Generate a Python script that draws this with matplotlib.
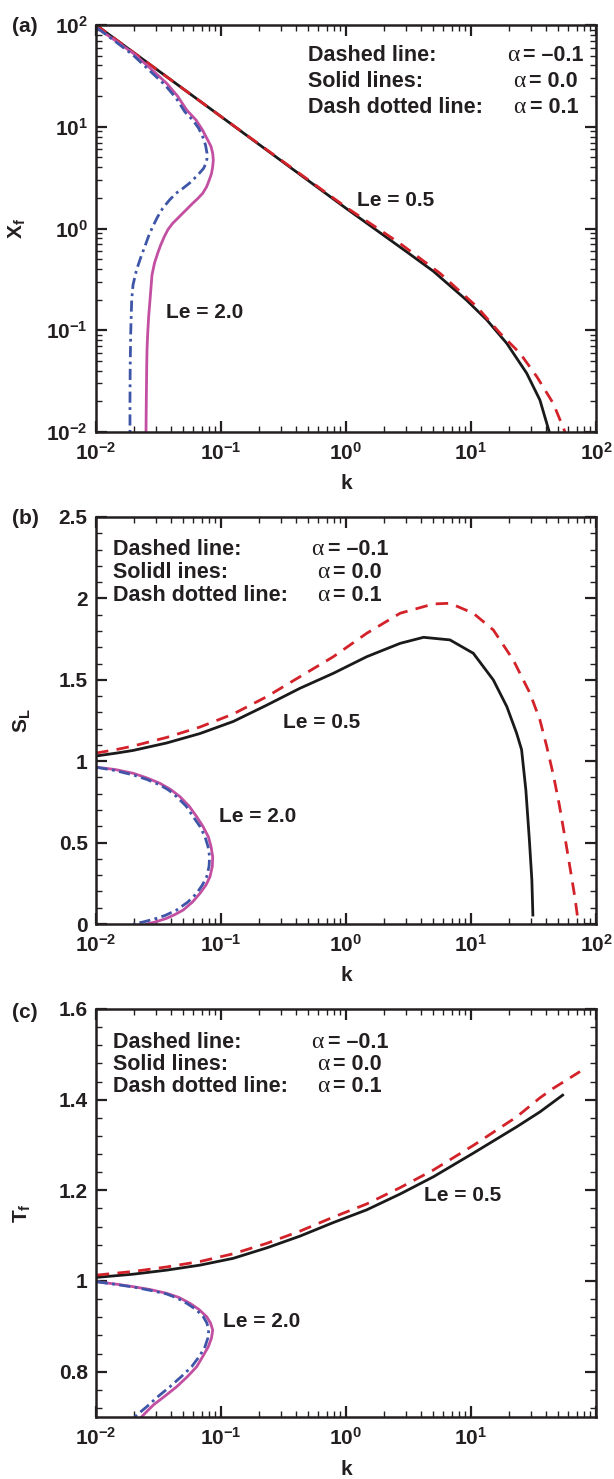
import numpy as np
import matplotlib
matplotlib.use('Agg')
import matplotlib.pyplot as plt
from matplotlib.ticker import FuncFormatter, FixedLocator, LogLocator, NullFormatter

plt.rcParams['font.family'] = ['Liberation Sans', 'DejaVu Sans']
plt.rcParams['font.weight'] = 'bold'
plt.rcParams['mathtext.fontset'] = 'custom'
plt.rcParams['mathtext.rm'] = 'Liberation Sans:bold'
plt.rcParams['mathtext.it'] = 'Liberation Sans:bold'
plt.rcParams['mathtext.bf'] = 'Liberation Sans:bold'
plt.rcParams['mathtext.default'] = 'rm'

# ---------------- data ----------------
# Panel (a): flame position X_f vs k
a_le05_a0_k = [0.01, 0.1, 1.0, 3.0, 5.0, 9.2, 13.4, 19.3, 27.9, 35.6, 42.3]
a_le05_a0_x = [100, 12.6, 1.58, 0.60, 0.38, 0.198, 0.126, 0.0745, 0.0378, 0.0206, 0.01]
a_le05_am_k = [0.01, 0.1, 1.0, 2.7, 5.65, 11.1, 17.1, 24.7, 33.6, 45.5, 56.5]
a_le05_am_x = [100, 12.6, 1.62, 0.714, 0.363, 0.171, 0.0933, 0.0593, 0.035, 0.0191, 0.01]
a_le2_a0_k = [0.01019, 0.01076, 0.01445, 0.01988, 0.02704, 0.03677, 0.04487, 0.05314, 0.0631,
              0.07112, 0.07826, 0.08318, 0.08583, 0.08679, 0.08583, 0.08395, 0.0806, 0.07656,
              0.07138, 0.06522, 0.05937, 0.05415, 0.04938, 0.04503, 0.04107, 0.03767, 0.03519,
              0.03293, 0.03115, 0.02938, 0.02805, 0.02704, 0.0264, 0.02592, 0.02559, 0.02545,
              0.02526, 0.02512]
a_le2_a0_x = [93.4, 89.3, 69.6, 52.7, 37.8, 26.7, 20.05, 14.6, 11.65,
              9.29, 7.41, 6.40, 5.48, 4.71, 4.05, 3.47, 3.0, 2.557,
              2.218, 1.971, 1.769, 1.579, 1.411, 1.259, 1.125, 0.978, 0.831,
              0.688, 0.571, 0.458, 0.349, 0.198, 0.138, 0.0933, 0.0639, 0.0439,
              0.0206, 0.01]
a_le2_ap_k = [0.01019, 0.01076, 0.01445, 0.01977, 0.02655, 0.03565, 0.04365, 0.05152, 0.05937,
              0.06607, 0.07138, 0.07516, 0.07727, 0.07727, 0.07586, 0.07244, 0.06706, 0.06138,
              0.05577, 0.04966, 0.04365, 0.03873, 0.03417, 0.03105, 0.02842, 0.02655, 0.02512,
              0.02291, 0.02109, 0.01977, 0.0193, 0.01895, 0.01877, 0.0187, 0.0187]
a_le2_ap_x = [93.4, 89.3, 68.1, 50.7, 36.1, 25.7, 19.17, 13.96, 11.65,
              9.72, 7.98, 6.62, 5.48, 4.875, 4.37, 3.889, 3.487, 3.114,
              2.781, 2.484, 2.218, 1.906, 1.579, 1.297, 1.041, 0.863, 0.715,
              0.528, 0.391, 0.2785, 0.198, 0.0933, 0.0439, 0.0206, 0.01]

# Panel (b): burning speed S_L vs k
b_le05_a0_k = [0.01, 0.01464, 0.01977, 0.03677, 0.06792, 0.1253, 0.2291, 0.4285, 0.7924, 1.466,
               2.714, 4.172, 6.792, 10.43, 15.09, 19.35, 23.17, 25.39, 27.47, 29.31, 30.68, 31.26]
b_le05_a0_s = [1.032, 1.050, 1.066, 1.112, 1.170, 1.244, 1.342, 1.448, 1.540, 1.642,
               1.724, 1.761, 1.745, 1.663, 1.499, 1.335, 1.172, 1.071, 0.823, 0.516, 0.270, 0.055]
b_le05_am_k = [0.01, 0.01464, 0.01977, 0.03677, 0.06792, 0.1253, 0.2291, 0.4285, 0.7924, 1.466,
               2.714, 5.01, 6.792, 10.43, 15.09, 21.77, 29.65, 35.6, 40.4, 45.6, 50.9, 56.9,
               62.4, 67.9, 72.4]
b_le05_am_s = [1.050, 1.072, 1.093, 1.146, 1.210, 1.290, 1.394, 1.519, 1.642, 1.786,
               1.909, 1.966, 1.970, 1.909, 1.806, 1.622, 1.417, 1.253, 1.089, 0.915, 0.731, 0.516,
               0.332, 0.160, 0.0]
b_le2_a0_k = [0.01013, 0.01419, 0.01988, 0.02558, 0.03247, 0.03953, 0.04699, 0.05546, 0.06391,
              0.07178, 0.07915, 0.08318, 0.08583, 0.0852, 0.08166, 0.07586, 0.06792, 0.05916,
              0.0499, 0.04285, 0.03677, 0.0302, 0.02547]
b_le2_a0_s = [0.9625, 0.949, 0.9257, 0.8968, 0.8642, 0.8262, 0.7819, 0.7248, 0.6591,
              0.5989, 0.5362, 0.476, 0.4134, 0.3532, 0.2905, 0.2396, 0.1886, 0.1351,
              0.086, 0.0584, 0.035, 0.0135, 0.0]
b_le2_ap_k = [0.01013, 0.01419, 0.01988, 0.02558, 0.03247, 0.03805, 0.0442, 0.05248, 0.05992,
              0.06792, 0.07447, 0.0787, 0.08112, 0.0802, 0.07685, 0.07096, 0.06391, 0.05433,
              0.0442, 0.03565, 0.02873, 0.02378, 0.01988]
b_le2_ap_s = [0.9625, 0.9429, 0.9152, 0.8876, 0.8538, 0.8231, 0.7819, 0.7248, 0.6591,
              0.5989, 0.5362, 0.476, 0.4134, 0.3532, 0.2905, 0.2396, 0.1886, 0.1351,
              0.086, 0.0522, 0.0289, 0.0123, 0.0]

# Panel (c): flame temperature T_f vs k
c_le05_a0_k = [0.01013, 0.01979, 0.0368, 0.0679, 0.1252, 0.232, 0.4285, 0.7924, 1.466, 2.714,
               5.01, 10.43, 23.17, 35.6, 54.1]
c_le05_a0_t = [1.008, 1.015, 1.024, 1.035, 1.050, 1.073, 1.099, 1.129, 1.157, 1.192,
               1.230, 1.282, 1.340, 1.373, 1.410]
c_le05_am_k = [0.01013, 0.01979, 0.0368, 0.0679, 0.1252, 0.232, 0.4285, 0.7924, 1.466, 2.714,
               5.01, 10.43, 23.17, 35.6, 45.5, 74.5]
c_le05_am_t = [1.013, 1.021, 1.031, 1.043, 1.060, 1.083, 1.110, 1.141, 1.170, 1.206,
               1.245, 1.299, 1.362, 1.404, 1.425, 1.462]
c_le2_a0_k = [0.01013, 0.01419, 0.01988, 0.02704, 0.03677, 0.04613, 0.05649, 0.06668, 0.07685,
              0.08241, 0.08583, 0.08395, 0.07915, 0.07178, 0.06391, 0.05395, 0.0442, 0.03565,
              0.02873, 0.02466, 0.02312]
c_le2_a0_t = [0.9984, 0.9934, 0.9874, 0.9812, 0.9728, 0.9636, 0.9508, 0.9371, 0.9212,
              0.9073, 0.8919, 0.8742, 0.855, 0.8345, 0.8109, 0.7893, 0.7668, 0.7463,
              0.7264, 0.7081, 0.70]
c_le2_ap_k = [0.01013, 0.01419, 0.01988, 0.02704, 0.03677, 0.04446, 0.05318, 0.0631, 0.07215,
              0.07711, 0.07978, 0.07849, 0.07447, 0.06738, 0.05823, 0.04823, 0.03904, 0.03134,
              0.02547, 0.02291, 0.02033]
c_le2_ap_t = [0.9984, 0.9927, 0.9867, 0.9795, 0.9713, 0.9625, 0.9508, 0.9371, 0.9212,
              0.9073, 0.8919, 0.8742, 0.855, 0.8345, 0.8109, 0.7893, 0.7668, 0.7452,
              0.7227, 0.7121, 0.70]

legend_left = ['Dashed line:', 'Solid lines:', 'Dash dotted line:']
legend_left_b = ['Dashed line:', 'Solidl ines:', 'Dash dotted line:']
legend_vals = ['= \u20130.1', '= 0.0', '= 0.1']

# ---------------- style ----------------
INK = '#231f20'
BLACK = '#1a1a1a'
RED = '#d3222a'
MAGENTA = '#c24fa1'
BLUE = '#3f56a8'
LW = 2.0
DASH = (4.5, 3)
DASHDOT = (4, 1.6, 1, 1.6)
FS = 15

fig = plt.figure(figsize=(6.14, 14.79), dpi=100)
W, H = 614.0, 1479.0


def rect(x0, x1, ytop, ybot):
    return [x0 / W, 1 - ybot / H, (x1 - x0) / W, (ybot - ytop) / H]


axa = fig.add_axes(rect(96, 596, 25, 432))
axb = fig.add_axes(rect(96, 596, 517, 924))
axc = fig.add_axes(rect(96, 596, 1009, 1417))


def logfmt(skip=()):
    def f(v, p):
        e = int(round(np.log10(v)))
        if e in skip:
            return ''
        return r'$10^{%d}$' % e
    return FuncFormatter(f)


def style(ax):
    for s in ax.spines.values():
        s.set_linewidth(1.8)
        s.set_color(INK)
    ax.tick_params(which='both', direction='in', top=True, right=True, colors=INK)
    ax.tick_params(which='major', length=8, width=1.6, labelsize=FS, pad=6)
    ax.tick_params(which='minor', length=4.5, width=1.0)
    ax.tick_params(axis='x', which='major', pad=7)
    for lab in ax.get_xticklabels() + ax.get_yticklabels():
        lab.set_fontweight('bold')


def legend(ax, labels, fx, fys, splits_px, x0=96, w=500):
    for lab, fy, sp, val in zip(labels, fys, splits_px, legend_vals):
        ax.text(fx, fy, lab, transform=ax.transAxes, fontsize=15.5, fontweight='bold',
                color=INK, ha='left', va='baseline')
        sx = (sp - x0) / w
        ax.text(sx - 0.002, fy, '\u03b1', transform=ax.transAxes, fontsize=17,
                family='Liberation Serif', fontweight='normal', color=INK, ha='right', va='baseline')
        ax.text(sx + 0.006, fy, val, transform=ax.transAxes, fontsize=15.5, fontweight='bold',
                color=INK, ha='left', va='baseline')


def log_x(ax):
    ax.set_xscale('log')
    ax.set_xlim(1e-2, 1e2)
    ax.xaxis.set_major_locator(LogLocator(base=10, numticks=10))
    ax.xaxis.set_minor_locator(LogLocator(base=10, subs=np.arange(2, 10), numticks=20))
    ax.xaxis.set_minor_formatter(NullFormatter())


def curves(ax, kb, yb, kr, yr, km, ym, kbl, ybl):
    ax.plot(kb, yb, color=BLACK, lw=LW)
    ax.plot(kr, yr, color=RED, lw=LW, dashes=DASH)
    ax.plot(km, ym, color=MAGENTA, lw=LW)
    ax.plot(kbl, ybl, color=BLUE, lw=LW, dashes=DASHDOT)


def le_labels(ax, p05, p2):
    ax.text(p05[0], p05[1], 'Le = 0.5', transform=ax.transAxes, fontsize=FS,
            fontweight='bold', color=INK, va='baseline')
    ax.text(p2[0], p2[1], 'Le = 2.0', transform=ax.transAxes, fontsize=FS,
            fontweight='bold', color=INK, va='baseline')


# ---- panel (a) ----
log_x(axa)
axa.set_yscale('log')
curves(axa, a_le05_a0_k, a_le05_a0_x, a_le05_am_k, a_le05_am_x,
       a_le2_a0_k, a_le2_a0_x, a_le2_ap_k, a_le2_ap_x)
axa.set_ylim(1e-2, 1e2)
axa.yaxis.set_major_locator(LogLocator(base=10, numticks=10))
axa.yaxis.set_minor_locator(LogLocator(base=10, subs=np.arange(2, 10), numticks=20))
axa.yaxis.set_minor_formatter(NullFormatter())
axa.xaxis.set_major_formatter(logfmt())
axa.yaxis.set_major_formatter(logfmt())
style(axa)
axa.set_xlabel('k', fontsize=FS, fontweight='bold', color=INK)
axa.set_ylabel(r'$\mathbf{X_f}$', fontsize=FS, color=INK)
axa.xaxis.set_label_coords(0.5, -0.103)
axa.yaxis.set_label_coords(-0.136, 0.5)
legend(axa, legend_left, 0.424, [0.9115, 0.8477, 0.7838], [520, 526, 527])
le_labels(axa, (0.522, 0.5565), (0.14, 0.2813))

# ---- panel (b) ----
log_x(axb)
curves(axb, b_le05_a0_k, b_le05_a0_s, b_le05_am_k, b_le05_am_s,
       b_le2_a0_k, b_le2_a0_s, b_le2_ap_k, b_le2_ap_s)
axb.set_ylim(0, 2.5)
axb.xaxis.set_major_formatter(logfmt())
axb.yaxis.set_major_locator(FixedLocator([0, 0.5, 1, 1.5, 2, 2.5]))
axb.yaxis.set_minor_locator(FixedLocator(np.round(np.arange(0, 2.51, 0.1), 2)))
axb.yaxis.set_major_formatter(FuncFormatter(lambda v, p: ('%g' % v)))
style(axb)
axb.set_xlabel('k', fontsize=FS, fontweight='bold', color=INK)
axb.set_ylabel(r'$\mathbf{S_L}$', fontsize=FS, color=INK)
axb.xaxis.set_label_coords(0.5, -0.103)
axb.yaxis.set_label_coords(-0.125, 0.5)
legend(axb, legend_left_b, 0.034, [0.9066, 0.850, 0.7936], [325, 330, 330])
le_labels(axb, (0.374, 0.4828), (0.246, 0.2494))

# ---- panel (c) ----
log_x(axc)
curves(axc, c_le05_a0_k, c_le05_a0_t, c_le05_am_k, c_le05_am_t,
       c_le2_a0_k, c_le2_a0_t, c_le2_ap_k, c_le2_ap_t)
axc.set_ylim(0.7, 1.6)
axc.xaxis.set_major_formatter(logfmt(skip=(2,)))
axc.yaxis.set_major_locator(FixedLocator([0.8, 1.0, 1.2, 1.4, 1.6]))
axc.yaxis.set_minor_locator(FixedLocator(np.round(np.arange(0.72, 1.6, 0.04), 2)))
axc.yaxis.set_major_formatter(FuncFormatter(lambda v, p: ('%g' % v)))
style(axc)
axc.set_xlabel('k', fontsize=FS, fontweight='bold', color=INK)
axc.set_ylabel(r'$\mathbf{T_f}$', fontsize=FS, color=INK)
axc.xaxis.set_label_coords(0.5, -0.105)
axc.yaxis.set_label_coords(-0.125, 0.5)
legend(axc, legend_left, 0.034, [0.9044, 0.8505, 0.7966], [325, 330, 330])
le_labels(axc, (0.656, 0.5306), (0.254, 0.2194))

# panel letters
for lab, ypx in (('(a)', 31.7), ('(b)', 524), ('(c)', 1018.3)):
    fig.text(12 / W, 1 - ypx / H, lab, fontsize=FS, fontweight='bold', color=INK,
             ha='left', va='baseline')

fig.savefig('out.png', dpi=100)
